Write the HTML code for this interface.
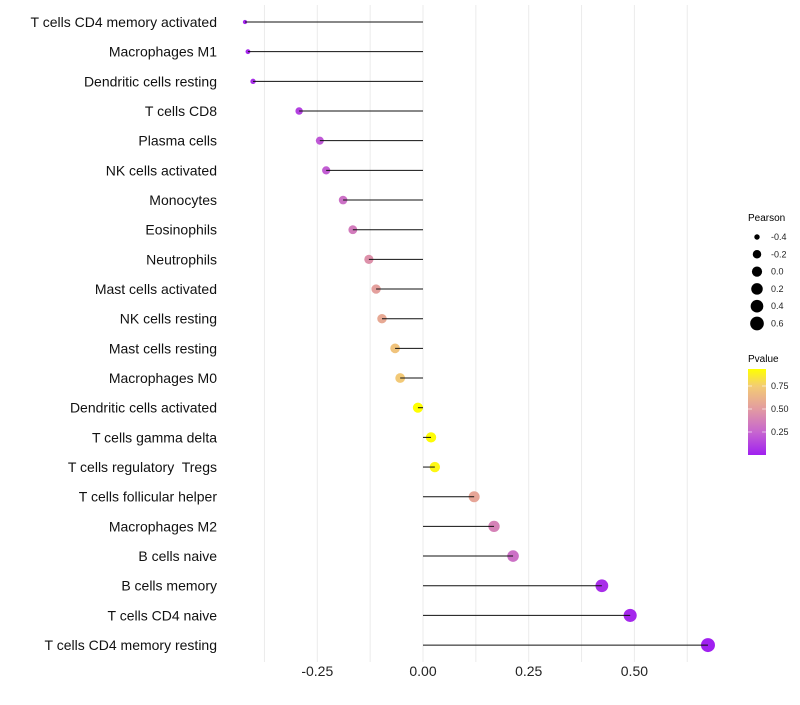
<!DOCTYPE html>
<html><head><meta charset="utf-8"><style>
body{margin:0;background:#fff;}
svg text{font-family:"Liberation Sans",sans-serif;white-space:pre;}
</style></head><body>
<svg id="chart" width="800" height="700">
<defs>
<linearGradient id="pg" x1="0" y1="1" x2="0" y2="0">
<stop offset="0" stop-color="#a020f0"/><stop offset="0.27" stop-color="#c766cf"/>
<stop offset="0.54" stop-color="#e39ca0"/><stop offset="0.8" stop-color="#f3cc74"/><stop offset="1" stop-color="#ffff00"/>
</linearGradient>
</defs>
<g id="grid"></g><g id="marks"></g><g id="labels"></g><g id="xaxis"></g>
<g>
<text x="748" y="221" font-size="10">Pearson</text>
<g id="sizeLegend"></g>
<text x="748" y="362" font-size="10">Pvalue</text>
<rect x="748" y="369" width="18" height="86" fill="url(#pg)"/>
<g id="colorTicks"></g>
</g>
</svg>
<script>
const categories=["T cells CD4 memory activated","Macrophages M1","Dendritic cells resting","T cells CD8","Plasma cells","NK cells activated","Monocytes","Eosinophils","Neutrophils","Mast cells activated","NK cells resting","Mast cells resting","Macrophages M0","Dendritic cells activated","T cells gamma delta","T cells regulatory  Tregs","T cells follicular helper","Macrophages M2","B cells naive","B cells memory","T cells CD4 naive","T cells CD4 memory resting"];
const pearson=[-0.421,-0.414,-0.402,-0.293,-0.244,-0.229,-0.189,-0.166,-0.128,-0.111,-0.097,-0.066,-0.054,-0.012,0.019,0.028,0.121,0.168,0.213,0.423,0.490,0.674];
const pvalues=[0.02,0.03,0.05,0.12,0.2,0.22,0.3,0.35,0.45,0.52,0.57,0.7,0.73,0.93,0.92,0.9,0.55,0.38,0.3,0.05,0.03,0.001];
const xTicks=[-0.25,0,0.25,0.5];
const xTickLabels=["-0.25","0.00","0.25","0.50"];
const sizeLegendVals=[-0.4,-0.2,0,0.2,0.4,0.6];
const sizeLegendLabels=["-0.4","-0.2","0.0","0.2","0.4","0.6"];
const colorTicks=[0.25,0.5,0.75];
const colorTickLabels=["0.25","0.50","0.75"];

const NS="http://www.w3.org/2000/svg";
const x=v=>423+v*422.8;
const y=i=>22+i*29.67;
const r=v=>2+5*Math.sqrt(Math.max(0,v+0.422)/1.096);
const pv2y=p=>455-p*92;
const stops=[[0,[160,32,240]],[0.27,[199,102,207]],[0.54,[227,156,160]],[0.8,[243,204,116]],[1,[255,255,0]]];
function col(p){p=Math.min(1,Math.max(0,p/0.93));for(let k=1;k<stops.length;k++){if(p<=stops[k][0]){const a=stops[k-1],b=stops[k],t=(p-a[0])/(b[0]-a[0]);return "rgb("+a[1].map((c,j)=>Math.round(c+(b[1][j]-c)*t)).join(",")+")";}}return "rgb(255,255,0)";}
function mk(t,at,parent){const e=document.createElementNS(NS,t);for(const k in at)e.setAttribute(k,at[k]);parent.appendChild(e);return e;}
const grid=document.getElementById('grid'),marks=document.getElementById('marks'),labels=document.getElementById('labels'),xaxis=document.getElementById('xaxis');
for(let g=-0.375;g<=0.7;g+=0.125){
 const l=mk('line',{x1:x(g),x2:x(g),y1:5,y2:662,stroke:'#ebebeb','stroke-width':1},grid);
 
 
}
categories.forEach((c,i)=>{
 const cy=y(i),v=pearson[i];
 const d=mk('circle',{cx:x(v),cy:cy,r:r(v),fill:col(pvalues[i])},marks);
 
 
 const s=mk('line',{x1:x(0),x2:x(v),y1:cy,y2:cy,stroke:'#111','stroke-width':1},marks);
 
 
 const t=mk('text',{x:217,y:cy+5,'text-anchor':'end','font-size':14,fill:'#111'},labels);
 t.textContent=c;
 
 
});
xTicks.forEach((v,i)=>{
 const t=mk('text',{x:x(v),y:676,'text-anchor':'middle','font-size':14,fill:'#222'},xaxis);
 t.textContent=xTickLabels[i];
 
 
});
const sl=document.getElementById('sizeLegend');
sizeLegendVals.forEach((v,i)=>{
 const cy=237+i*17.3;
 const c=mk('circle',{cx:757,cy:cy,r:r(v),fill:'#000'},sl);
 
 
 const t=mk('text',{x:771,y:cy+3,'font-size':9,fill:'#222'},sl);
 t.textContent=sizeLegendLabels[i];
 
 
});
const ct=document.getElementById('colorTicks');
colorTicks.forEach((p,i)=>{
 const yy=pv2y(p);
 mk('line',{x1:748,x2:752,y1:yy,y2:yy,stroke:'#fff','stroke-width':0.6},ct);
 mk('line',{x1:762,x2:766,y1:yy,y2:yy,stroke:'#fff','stroke-width':0.6},ct);
 const t=mk('text',{x:771,y:yy+3,'font-size':9,fill:'#222'},ct);
 t.textContent=colorTickLabels[i];
 
 
});
</script>
</body></html>
